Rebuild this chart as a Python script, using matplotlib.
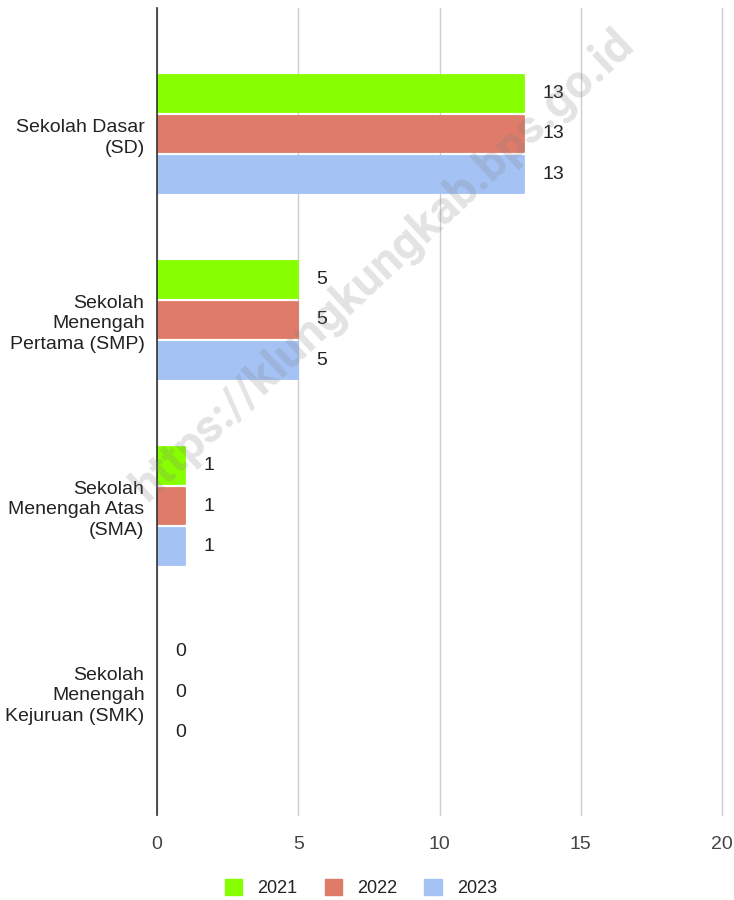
import matplotlib
matplotlib.use("Agg")
import matplotlib.pyplot as plt
import numpy as np
from matplotlib.patches import Patch

categories = [
    "Sekolah Dasar\n(SD)",
    "Sekolah\nMenengah\nPertama (SMP)",
    "Sekolah\nMenengah Atas\n(SMA)",
    "Sekolah\nMenengah\nKejuruan (SMK)",
]
years = ["2021", "2022", "2023"]
v2021 = [13, 5, 1, 0]
v2022 = [13, 5, 1, 0]
v2023 = [13, 5, 1, 0]
colors = ["#88ff00", "#de7b69", "#a4c2f4"]

plt.rcParams["font.family"] = ["Liberation Sans", "DejaVu Sans"]
FS = 14

fig = plt.figure(figsize=(7.34, 9), dpi=100)
ax = fig.add_axes([157 / 734, 1 - 815 / 900, (722 - 157) / 734, (815 - 8) / 900])

y = np.arange(len(categories))
pitch = 0.218
h = 0.195
for k, (vals, col) in enumerate(zip([v2021, v2022, v2023], colors)):
    pos = y + (k - 1) * pitch
    bars = ax.barh(pos, vals, height=h, color=col, edgecolor=col, zorder=3)
    for b, v in zip(bars, vals):
        b.set_linewidth(1.3 if v > 0 else 0)
        b.set_joinstyle("round")
    for p, v in zip(pos, vals):
        ax.annotate(str(v), (v, p), xytext=(13, 0), textcoords="offset points",
                    ha="left", va="center", fontsize=FS, color="#222222", zorder=4)

ax.set_xlim(0, 20)
ax.set_ylim(3.661, -0.677)
ax.set_xticks([0, 5, 10, 15, 20])
ax.set_yticks(y)
ax.set_yticklabels(categories, fontsize=FS, color="#222222", linespacing=1.3)
ax.tick_params(axis="y", length=0, pad=9)
ax.tick_params(axis="x", length=0, pad=15, labelsize=FS, labelcolor="#444444")
ax.grid(axis="x", color="#cccccc", linewidth=1, zorder=0)
for gl in ax.get_xgridlines():
    gl.set_clip_on(False)
for s in ["top", "right", "bottom"]:
    ax.spines[s].set_visible(False)
ax.spines["left"].set_color("#333333")
ax.spines["left"].set_linewidth(1.2)
ax.spines["left"].set_zorder(5)

fig.text(0.522, 0.705, "https://klungkungkab.bps.go.id", rotation=43, fontsize=34,
         fontweight="bold", color="#808080", alpha=0.22, ha="center", va="center",
         family="Roboto", zorder=10)

handles = [Patch(facecolor=c, edgecolor=c) for c in colors]
fig.legend(handles, years, loc="center", bbox_to_anchor=(361 / 734, 1 - 888 / 900), ncol=3,
           frameon=False, fontsize=13, handlelength=0.95, handleheight=1.05,
           columnspacing=1.5, handletextpad=0.85, labelcolor="#222222")

fig.savefig("out.png", dpi=100)
